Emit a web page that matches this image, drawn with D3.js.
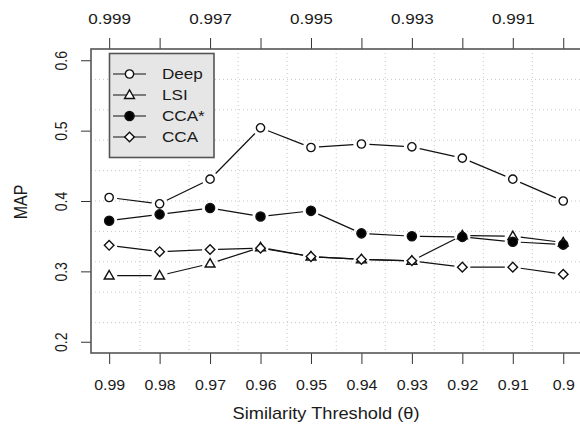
<html>
<script src='https://d3js.org/d3.v7.min.js'></script>
<style>
    body { margin: 0; background: #fff; }
    text { font-family: 'Liberation Sans', Arial, sans-serif; fill: #1a1a1a; }
    .grid line { stroke: #c8c8c8; stroke-dasharray: 1,3; }
</style>
<body onload='init()'>
<svg width=580 height=428 id="chart"></svg>
<script>
    // data
    var thresholds = [0.99, 0.98, 0.97, 0.96, 0.95, 0.94, 0.93, 0.92, 0.91, 0.90];
    var topTicks = [0.999, 0.998, 0.997, 0.996, 0.995, 0.994, 0.993, 0.992, 0.991, 0.990];
    var topLabels = ["0.999", "", "0.997", "", "0.995", "", "0.993", "", "0.991", ""];
    var yTicks = [0.2, 0.3, 0.4, 0.5, 0.6];
    var deep = [0.405, 0.396, 0.431, 0.504, 0.476, 0.481, 0.477, 0.461, 0.431, 0.400];
    var lsi = [0.294, 0.294, 0.311, 0.334, 0.321, 0.317, 0.315, 0.351, 0.350, 0.341];
    var ccaStar = [0.372, 0.381, 0.390, 0.378, 0.386, 0.354, 0.350, 0.349, 0.342, 0.338];
    var cca = [0.337, 0.328, 0.331, 0.333, 0.321, 0.317, 0.315, 0.306, 0.306, 0.296];
    var seriesNames = ["Deep", "LSI", "CCA*", "CCA"];

    function init() {
        var svg = d3.select("svg");
        var sx = 1.14; // the figure's text is a little stretched sideways

        var left = 91, right = 581.4, top = 49, bottom = 353;

        var xScale = d3.scaleLinear().domain([0.9936, 0.8964]).range([left, right]);
        var xTop = d3.scaleLinear().domain([0.99936, 0.98964]).range([left, right]);
        var yScale = d3.scaleLinear().domain([0.184, 0.616]).range([bottom, top]);

        // dotted grid, plot split in 10 x 10
        var grid = svg.append("g").attr("class", "grid");
        d3.range(1, 10).forEach(function (k) {
            var gx = left + k * (right - left) / 10;
            var gy = top + k * (bottom - top) / 10;
            grid.append("line").attr("x1", gx).attr("x2", gx).attr("y1", top).attr("y2", bottom);
            grid.append("line").attr("x1", left).attr("x2", right).attr("y1", gy).attr("y2", gy);
        });

        function stretchText(sel, x, y, rot) {
            sel.attr("x", 0).attr("y", 0)
               .attr("transform", "translate(" + x + "," + y + ") scale(" + sx + ",1)" + (rot ? " rotate(-90)" : ""));
        }

        // bottom axis
        var gb = svg.append("g").attr("transform", "translate(0," + bottom + ")")
            .call(d3.axisBottom(xScale).tickValues(thresholds).tickSize(11).tickSizeOuter(0).tickFormat(d3.format("")));
        gb.select(".domain").remove();
        gb.selectAll(".tick line").attr("stroke", "#333");
        gb.selectAll(".tick text").each(function (d) {
            var t = d3.select(this).attr("font-size", 14).attr("font-family", null).attr("text-anchor", "middle").attr("dy", null);
            stretchText(t, 0, 37, false);
        });

        // top axis
        var gt = svg.append("g").attr("transform", "translate(0," + top + ")")
            .call(d3.axisTop(xTop).tickValues(topTicks).tickSize(11).tickSizeOuter(0)
                .tickFormat(function (d, i) { return topLabels[i]; }));
        gt.select(".domain").remove();
        gt.selectAll(".tick line").attr("stroke", "#333");
        gt.selectAll(".tick text").each(function () {
            var t = d3.select(this).attr("font-size", 15).attr("font-family", null).attr("dy", null);
            stretchText(t, 0, -25, false);
        });

        // left axis, labels parallel to axis
        var gl = svg.append("g").attr("transform", "translate(" + left + ",0)")
            .call(d3.axisLeft(yScale).tickValues(yTicks).tickSize(10).tickSizeOuter(0).tickFormat(d3.format(".1f")));
        gl.select(".domain").remove();
        gl.selectAll(".tick line").attr("stroke", "#333");
        gl.selectAll(".tick text").each(function () {
            var t = d3.select(this).attr("font-size", 14).attr("font-family", null).attr("text-anchor", "middle").attr("dy", null);
            stretchText(t, -24, 0, true);
        });

        // box
        svg.append("rect").attr("x", left).attr("y", top)
            .attr("width", right - left).attr("height", bottom - top)
            .attr("fill", "none").attr("stroke", "#555").attr("stroke-width", 1.6);

        // axis titles
        stretchText(svg.append("text").attr("font-size", 16).attr("text-anchor", "middle")
            .text("Similarity Threshold (\u03b8)"), 326, 419, false);
        stretchText(svg.append("text").attr("font-size", 16).attr("text-anchor", "middle")
            .text("MAP"), 27, 202, true);

        var symCircle = d3.symbol().type(d3.symbolCircle).size(54)();
        var symTri = d3.symbol().type(d3.symbolTriangle).size(42)();
        var symDot = d3.symbol().type(d3.symbolCircle).size(66)();
        var symDiamond = d3.symbol().type(d3.symbolSquare).size(46)();

        var series = [
            { name: seriesNames[0], values: deep, sym: symCircle, fill: "#fff", rot: 0, dy: 0 },
            { name: seriesNames[1], values: lsi, sym: symTri, fill: "#fff", rot: 0, dy: 0.6 },
            { name: seriesNames[2], values: ccaStar, sym: symDot, fill: "#000", rot: 0, dy: 0 },
            { name: seriesNames[3], values: cca, sym: symDiamond, fill: "#fff", rot: 45, dy: 0 }
        ];

        var gap = 8;
        series.forEach(function (s) {
            var g = svg.append("g");
            var pts = s.values.map(function (v, i) { return [xScale(thresholds[i]), yScale(v)]; });
            // type "b": segments stop short of the points
            for (var i = 0; i < pts.length - 1; i++) {
                var a = pts[i], b = pts[i + 1];
                var dx = b[0] - a[0], dy = b[1] - a[1], len = Math.sqrt(dx * dx + dy * dy);
                if (len <= 2 * gap) continue;
                var ux = dx / len, uy = dy / len;
                g.append("line")
                    .attr("x1", a[0] + ux * gap).attr("y1", a[1] + uy * gap)
                    .attr("x2", b[0] - ux * gap).attr("y2", b[1] - uy * gap)
                    .attr("stroke", "#111").attr("stroke-width", 1.2);
            }
            g.selectAll("path").data(pts).enter().append("path")
                .attr("d", s.sym)
                .attr("transform", function (d) { return "translate(" + d[0] + "," + (d[1] + s.dy) + ") rotate(" + s.rot + ")"; })
                .attr("fill", s.fill).attr("stroke", "#111").attr("stroke-width", 1.4);
        });

        // legend
        var lg = svg.append("g");
        lg.append("rect").attr("x", 109.5).attr("y", 53.5).attr("width", 104.5).attr("height", 104)
            .attr("fill", "#e6e6e6").attr("stroke", "#555").attr("stroke-width", 1.6);
        var rowY = d3.scalePoint().domain(seriesNames).range([74, 137]);
        series.forEach(function (s) {
            var y = rowY(s.name);
            lg.append("line").attr("x1", 113).attr("x2", 146).attr("y1", y).attr("y2", y)
                .attr("stroke", "#111").attr("stroke-width", 1.2);
            lg.append("path").attr("d", s.sym)
                .attr("transform", "translate(129.5," + (y + s.dy) + ") rotate(" + s.rot + ")")
                .attr("fill", s.fill).attr("stroke", "#111").attr("stroke-width", 1.4);
            stretchText(lg.append("text").attr("font-size", 15).attr("dy", "0.36em").text(s.name), 162, y, false);
        });
    }
</script>
</body>
</html>
